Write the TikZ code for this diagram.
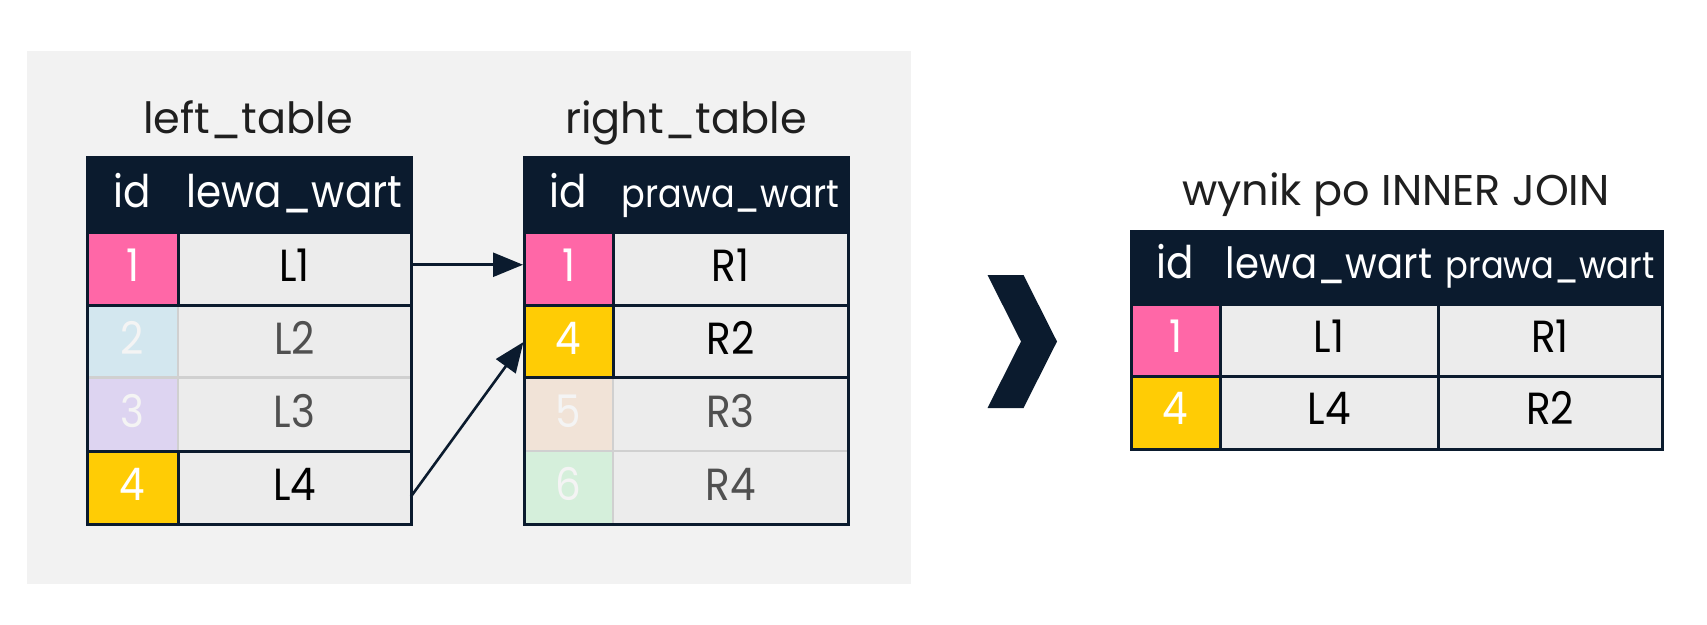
\documentclass[tikz,border=0pt]{standalone}
\usepackage{fontspec}
\setmainfont{Poppins}
\newfontfamily\tabf{Poppins}[FakeStretch=0.9]
\usetikzlibrary{arrows.meta,calc}
\definecolor{navy}{HTML}{0B1B2E}
\definecolor{bggray}{HTML}{F2F2F2}
\definecolor{cellgray}{HTML}{ECECEC}
\definecolor{pinkc}{HTML}{FF67A7}
\definecolor{yellowc}{HTML}{FFCC05}
\definecolor{bluec}{HTML}{D3E7EF}
\definecolor{lavc}{HTML}{DDD4F1}
\definecolor{peachc}{HTML}{F1E3D7}
\definecolor{mintc}{HTML}{D5EFDB}
\definecolor{fadeline}{HTML}{D0D0D0}
\definecolor{fadetext}{HTML}{505050}
\definecolor{fadeid}{HTML}{F4F4F4}
\newcommand\tcell[9][]{%
  \node[cellnode, fill=#7, text=#8,
        minimum width={(#5-#3)*1pt}, minimum height={(#6-#4)*1pt}, #1]
        (#2) at ({(#3+#5)/2},{(#4+#6)/2}) {#9};}
\begin{document}
\begin{tikzpicture}[x=1pt,y=-1pt,
  cellnode/.style={inner sep=0pt, outer sep=0pt, text height=26pt, text depth=0pt,
     font=\tabf\fontsize{45}{50}\selectfont},
  fs/.style={font=\tabf\fontsize{#1}{#1}\selectfont},
  hd/.style={text height=25pt},
  hdw/.style={text height=21pt},
  bw/.style={text height=23pt},
  title/.style={anchor=base, inner sep=0pt, text=black!88, font=\fontsize{43}{48}\selectfont},
  dark/.style={draw=navy, line width=3pt},
  light/.style={draw=fadeline, line width=2.5pt},
  conn/.style={draw=navy, line width=2.6pt, shorten >=1pt, -{Triangle[length=30pt,width=24pt]}}]
\fill[white] (0,0) rectangle (1707,624);
\useasboundingbox (0,0) rectangle (1707,624);
\fill[bggray] (27,51) rectangle (911,584);

% titles
\node[title] (tl) at (248,133) {left\_table};
\node[title] (tr) at (686,133) {right\_table};
\node[title] (tw) at (1396,205) {wynik po INNER JOIN};

% ---- left table
\tcell[hd]{Lh1}{87}{157}{178}{232.5}{navy}{white}{id}
\tcell[hd,fs=45]{Lh2}{178}{157}{411}{232.5}{navy}{white}{lewa\_wart}
\tcell{Li1}{87}{232.5}{178}{305}{pinkc}{white}{1}
\tcell{Lv1}{178}{232.5}{411}{305}{cellgray}{black}{L1}
\tcell{Li2}{87}{305}{178}{377.5}{bluec}{fadeid}{2}
\tcell{Lv2}{178}{305}{411}{377.5}{cellgray}{fadetext}{L2}
\tcell{Li3}{87}{377.5}{178}{451}{lavc}{fadeid}{3}
\tcell{Lv3}{178}{377.5}{411}{451}{cellgray}{fadetext}{L3}
\tcell{Li4}{87}{451}{178}{524}{yellowc}{white}{4}
\tcell{Lv4}{178}{451}{411}{524}{cellgray}{black}{L4}
\path[light] (87,377.5) -- (411,377.5) (178,305) -- (178,451);
\path[dark] (87,232.5) -- (411,232.5) (87,305) -- (411,305) (87,451) -- (411,451)
  (178,232.5) -- (178,305) (178,451) -- (178,524);
\path[dark] (87,157) rectangle (411,524);

% ---- right table
\tcell[hd]{Rh1}{524}{157}{613}{232.5}{navy}{white}{id}
\tcell[hd,fs=39]{Rh2}{613}{157}{848}{232.5}{navy}{white}{prawa\_wart}
\tcell{Ri1}{524}{232.5}{613}{305}{pinkc}{white}{1}
\tcell{Rv1}{613}{232.5}{848}{305}{cellgray}{black}{R1}
\tcell{Ri2}{524}{305}{613}{377.5}{yellowc}{white}{4}
\tcell{Rv2}{613}{305}{848}{377.5}{cellgray}{black}{R2}
\tcell{Ri3}{524}{377.5}{613}{451}{peachc}{fadeid}{5}
\tcell{Rv3}{613}{377.5}{848}{451}{cellgray}{fadetext}{R3}
\tcell{Ri4}{524}{451}{613}{524}{mintc}{fadeid}{6}
\tcell{Rv4}{613}{451}{848}{524}{cellgray}{fadetext}{R4}
\path[light] (524,451) -- (848,451) (613,377.5) -- (613,524);
\path[dark] (524,232.5) -- (848,232.5) (524,305) -- (848,305) (524,377.5) -- (848,377.5)
  (613,232.5) -- (613,377.5);
\path[dark] (524,157) rectangle (848,524);

% ---- connectors
\draw[conn] ($(Lv1.east)+(0,-4)$) -- ($(Ri1.west)+(0,-4)$);
\draw[conn] ($(Lv4.east)+(0,9)$) -- (Ri2.west);

% ---- chevron
\fill[navy] (987.5,275) -- (1023.5,275) -- (1057,341.5) -- (1023.5,408) -- (987.5,408) -- (1021,341.5) -- cycle;

% ---- result table
\tcell[hdw]{Wh1}{1131}{231.5}{1220}{304.5}{navy}{white}{id}
\tcell[hdw,fs=43]{Wh2}{1220}{231.5}{1438}{304.5}{navy}{white}{lewa\_wart}
\tcell[hdw,fs=37.5]{Wh3}{1438}{231.5}{1662}{304.5}{navy}{white}{prawa\_wart}
\tcell[bw]{Wi1}{1131}{304.5}{1220}{376.5}{pinkc}{white}{1}
\tcell[bw]{Wl1}{1220}{304.5}{1438}{376.5}{cellgray}{black}{L1}
\tcell[bw]{Wr1}{1438}{304.5}{1662}{376.5}{cellgray}{black}{R1}
\tcell[bw]{Wi2}{1131}{376.5}{1220}{449}{yellowc}{white}{4}
\tcell[bw]{Wl2}{1220}{376.5}{1438}{449}{cellgray}{black}{L4}
\tcell[bw]{Wr2}{1438}{376.5}{1662}{449}{cellgray}{black}{R2}
\path[dark] (1131,304.5) -- (1662,304.5) (1131,376.5) -- (1662,376.5)
  (1220,304.5) -- (1220,449) (1438,304.5) -- (1438,449);
\path[dark] (1131,231.5) rectangle (1662,449);
\end{tikzpicture}
\end{document}
